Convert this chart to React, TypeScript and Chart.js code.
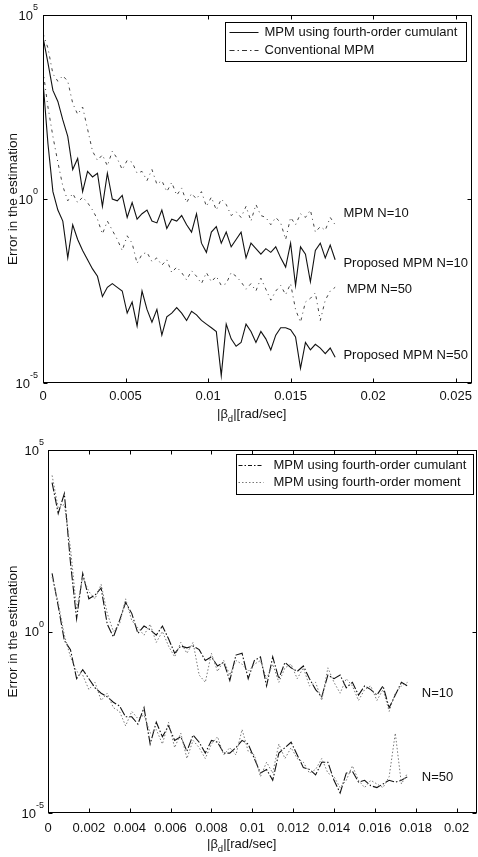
import React, { useEffect, useRef } from "react";
import { Chart, registerables } from "chart.js";

Chart.register(...registerables);

const FONT = '"Liberation Sans", Arial, Helvetica, sans-serif';
const INK = "#111";

// ---------- top panel data (x in rad/sec, y stored as log10 of error) ----------
const topX = [
  0, 0.0003, 0.0006, 0.0009, 0.0012, 0.0015, 0.0018, 0.0021, 0.0024, 0.0027,
  0.003, 0.0033, 0.0036, 0.0039, 0.0042, 0.0045, 0.0048, 0.0051, 0.0054, 0.0057,
  0.006, 0.0063, 0.0066, 0.0069, 0.0072, 0.0075, 0.0078, 0.0081, 0.0084, 0.0087,
  0.009, 0.0093, 0.0096, 0.0099, 0.0102, 0.0105, 0.0108, 0.0111, 0.0114, 0.0117,
  0.012, 0.0123, 0.0126, 0.0129, 0.0132, 0.0135, 0.0138, 0.0141, 0.0144, 0.0147,
  0.015, 0.0153, 0.0156, 0.0159, 0.0162, 0.0165, 0.0168, 0.0171, 0.0174, 0.0177,
];
const proposedN10Log = [
  4.4, 3.7, 2.95, 2.65, 2.15, 1.7, 0.8, 1.1, 0.2, 0.75,
  0.6, 0.7, -0.2, 0.7, 0.0, -0.05, 0.1, -0.5, -0.1, -0.55,
  -0.4, -0.3, -0.6, -0.65, -0.3, -0.8, -0.55, -0.6, -0.45, -0.7,
  -0.9, -0.4, -1.2, -1.45, -0.9, -0.75, -1.2, -0.9, -1.3, -1.1,
  -0.9, -1.6, -1.2, -1.35, -1.5, -1.35, -1.45, -1.3, -1.6, -1.85,
  -1.2, -2.35, -1.3, -1.5, -2.25, -1.4, -1.2, -1.6, -1.25, -1.65,
];
const proposedN50Log = [
  3.2, 1.5, 0.2, -0.3, -0.6, -1.6, -0.7, -1.1, -1.4, -1.65,
  -1.9, -2.1, -2.65, -2.4, -2.3, -2.4, -2.5, -3.1, -2.8, -3.45,
  -2.5, -3.0, -3.35, -3.0, -3.7, -3.2, -3.1, -2.95, -3.1, -3.3,
  -3.05, -3.15, -3.3, -3.4, -3.5, -3.6, -4.8, -3.4, -3.8, -4.0,
  -3.9, -3.4, -3.6, -3.9, -3.6, -3.8, -4.1, -3.7, -3.5, -3.5,
  -3.55, -3.75, -4.6, -3.9, -4.1, -3.95, -4.05, -4.2, -4.05, -4.3,
];
const conventionalN10Log = [
  4.5, 4.1, 3.4, 3.2, 3.35, 3.2, 2.6, 2.3, 2.5, 1.9,
  1.3, 1.05, 1.2, 0.9, 1.3, 1.1, 0.8, 1.05, 1.0, 0.7,
  0.75, 0.5, 0.8, 0.4, 0.5, 0.2, 0.45, 0.1, 0.3, -0.1,
  0.15, 0.0, 0.2, -0.2, 0.05, -0.3, 0.0, -0.15, -0.45, -0.35,
  -0.5, -0.2, -0.6, -0.15, -0.45, -0.5, -0.7, -0.5, -0.65, -1.1,
  -0.5, -0.7, -0.4, -0.5, -0.3, -0.9, -0.75, -0.85, -0.5, -0.7,
];
const conventionalN50Log = [
  3.5, 2.5, 1.7, 1.0, 0.35, -0.05, 0.15, -0.1, 0.05, -0.1,
  -0.3, -0.55, -0.95, -0.6, -0.85, -1.1, -1.4, -1.0, -1.2, -1.75,
  -1.5, -1.45, -1.7, -1.6, -1.8, -1.65, -2.0, -1.85, -2.0, -2.2,
  -1.95, -2.1, -2.3, -2.0, -2.25, -2.1, -2.35, -2.3, -2.0, -2.1,
  -2.25, -2.45, -2.3, -2.5, -2.15, -2.45, -2.75, -2.5, -2.35, -2.6,
  -2.3, -3.0, -3.35, -2.8, -2.7, -2.55, -3.3, -2.75, -2.5, -2.4,
];

// ---------- bottom panel data ----------
const bottomX = [
  0.0002, 0.0005, 0.0008, 0.0011, 0.0014, 0.0017, 0.002, 0.0023, 0.0026, 0.0029,
  0.0032, 0.0035, 0.0038, 0.0041, 0.0044, 0.0047, 0.005, 0.0053, 0.0056, 0.0059,
  0.0062, 0.0065, 0.0068, 0.0071, 0.0074, 0.0077, 0.008, 0.0083, 0.0086, 0.0089,
  0.0092, 0.0095, 0.0098, 0.0101, 0.0104, 0.0107, 0.011, 0.0113, 0.0116, 0.0119,
  0.0122, 0.0125, 0.0128, 0.0131, 0.0134, 0.0137, 0.014, 0.0143, 0.0146, 0.0149,
  0.0152, 0.0155, 0.0158, 0.0161, 0.0164, 0.0167, 0.017, 0.0173, 0.0176,
];
const cumulantN10Log = [
  4.1, 3.25, 3.8, 1.9, 0.35, 1.6, 0.9, 1.0, 1.2, 0.2,
  -0.15, 0.3, 0.8, 0.5, -0.05, 0.15, 0.05, -0.1, 0.15, -0.2,
  -0.6, -0.4, -0.45, -0.4, -0.5, -0.8, -0.7, -0.95, -0.85, -1.35,
  -0.65, -0.6, -1.3, -0.8, -0.7, -1.5, -0.7, -1.3, -0.85, -1.0,
  -1.1, -0.95, -1.3, -1.6, -1.8, -1.2, -1.3, -1.2, -1.55, -1.4,
  -1.75, -1.5, -1.6, -1.75, -1.5, -2.1, -1.75, -1.4, -1.5,
];
const cumulantN50Log = [
  1.6, 0.7, -0.25, -0.5, -1.3, -1.05, -1.3, -1.55, -1.7, -1.8,
  -1.95, -2.05, -2.35, -2.35, -2.55, -2.1, -3.1, -2.5, -2.9, -2.6,
  -3.0, -2.9, -3.3, -2.85, -3.05, -3.35, -3.0, -3.05, -3.35, -3.35,
  -3.2, -3.0, -3.1, -3.5, -3.9, -3.8, -4.1, -3.35, -3.2, -3.05,
  -3.4, -3.75, -3.8, -3.95, -3.6, -3.6, -4.1, -4.45, -3.9, -3.85,
  -4.15, -4.1, -4.25, -4.3, -4.2, -4.1, -4.15, -4.1, -4.0,
];
const momentN10Log = [
  4.3, 3.4, 3.5, 2.3, 0.6, 1.5, 1.1, 0.9, 1.3, 0.5,
  0.0, 0.2, 0.9, 0.3, 0.1, -0.1, 0.2, -0.3, 0.0, -0.4,
  -0.7, -0.3, -0.6, -0.3, -1.2, -1.4, -0.6, -1.1, -0.8, -1.2,
  -0.8, -0.9, -1.1, -0.9, -0.8, -1.3, -0.9, -1.4, -1.0, -0.9,
  -1.3, -1.0, -1.5, -1.4, -1.9, -1.0, -1.4, -1.7, -1.3, -1.5,
  -1.9, -1.6, -1.5, -1.9, -1.6, -2.2, -1.7, -1.5, -1.4,
];
const momentN50Log = [
  1.5, 0.8, -0.1, -0.7, -1.1, -1.2, -1.6, -1.4, -1.9, -1.7,
  -2.1, -2.2, -2.6, -2.2, -2.4, -2.3, -2.8, -2.7, -3.1, -2.5,
  -3.2, -2.8, -3.5, -3.0, -3.2, -3.5, -3.1, -2.9, -3.4, -3.2,
  -3.4, -2.7, -3.3, -3.4, -4.0, -3.6, -3.9, -3.1, -3.5, -3.2,
  -3.5, -3.6, -3.9, -3.8, -3.5, -3.9, -4.0, -4.3, -4.1, -3.7,
  -4.1, -4.3, -4.1, -4.2, -4.3, -4.0, -2.8, -4.2, -3.9,
];

// ---------- ticks, labels, annotations ----------
const topXTicks = [0, 0.005, 0.01, 0.015, 0.02, 0.025];
const topXTickLabels = ["0", "0.005", "0.01", "0.015", "0.02", "0.025"];
const bottomXTicks = [0, 0.002, 0.004, 0.006, 0.008, 0.01, 0.012, 0.014, 0.016, 0.018, 0.02];
const bottomXTickLabels = ["0", "0.002", "0.004", "0.006", "0.008", "0.01", "0.012", "0.014", "0.016", "0.018", "0.02"];
const yTickExponents = [5, 0, -5];

const topLegendLabels = ["MPM using fourth-order cumulant", "Conventional MPM"];
const bottomLegendLabels = ["MPM using fourth-order cumulant", "MPM using fourth-order moment"];

const topNoteTexts = ["MPM N=10", "Proposed MPM N=10", "MPM N=50", "Proposed MPM N=50"];
const topNoteX = [0.0182, 0.0182, 0.0184, 0.0182];
const topNoteYLog = [-0.38, -1.74, -2.47, -4.24];
const bottomNoteTexts = ["N=10", "N=50"];
const bottomNoteX = [0.0183, 0.0183];
const bottomNoteYLog = [-1.71, -4.01];

const yTitle = "Error in the estimation";

// ---------- styles ----------
const SOLID: number[] = [];
const DASHDOT = [3, 4, 1, 4];
const CUMDASH = [9, 2, 1.5, 2];
const DOTTED = [1.5, 2];

const toPoints = (xs: number[], logs: number[]) =>
  xs.map((x, i) => ({ x, y: Math.pow(10, logs[i]) }));

const line = (data: any, color: string, dash: number[], width: number) => ({
  data,
  borderColor: color,
  borderDash: dash,
  borderWidth: width,
  pointRadius: 0,
  fill: false,
  tension: 0,
});

type Spec = any;

function makePlugin(spec: Spec) {
  return {
    id: "decor",
    afterDatasetsDraw(chart: any) {
      const { ctx, chartArea: a, scales } = chart;
      const xs = scales.x;
      const ys = scales.y;
      const L = Math.round(a.left) + 0.5;
      const T = Math.round(a.top) + 0.5;
      const R = Math.round(a.right) - 0.5;
      const B = Math.round(a.bottom) - 0.5;
      ctx.save();
      ctx.setLineDash([]);
      ctx.strokeStyle = "#000";
      ctx.lineWidth = 1;
      ctx.strokeRect(L, T, R - L, B - T);

      // inward ticks
      ctx.beginPath();
      spec.xTicks.forEach((v: number) => {
        const px = Math.round(xs.getPixelForValue(v)) + 0.5;
        ctx.moveTo(px, B);
        ctx.lineTo(px, B - 4);
        ctx.moveTo(px, T);
        ctx.lineTo(px, T + 4);
      });
      yTickExponents.forEach((e) => {
        const py = Math.round(ys.getPixelForValue(Math.pow(10, e))) + 0.5;
        ctx.moveTo(L, py);
        ctx.lineTo(L + 4, py);
        ctx.moveTo(R, py);
        ctx.lineTo(R - 4, py);
      });
      ctx.stroke();

      // y tick labels 10^e
      ctx.fillStyle = INK;
      ctx.textBaseline = "middle";
      ctx.textAlign = "left";
      yTickExponents.forEach((e) => {
        const py = ys.getPixelForValue(Math.pow(10, e));
        const es = e < 0 ? "-" + Math.abs(e) : String(e);
        ctx.font = `9px ${FONT}`;
        const ew = ctx.measureText(es).width;
        ctx.font = `13px ${FONT}`;
        const bw = ctx.measureText("10").width;
        const right = a.left - spec.yLabelGap;
        ctx.fillText("10", right - ew - bw, py + 1);
        ctx.font = `9px ${FONT}`;
        ctx.fillText(es, right - ew, py - 7);
      });

      // y title
      ctx.save();
      ctx.font = `13.5px ${FONT}`;
      ctx.translate(spec.yTitleX, (a.top + a.bottom) / 2);
      ctx.rotate(-Math.PI / 2);
      ctx.textAlign = "center";
      ctx.textBaseline = "middle";
      ctx.fillText(yTitle, 0, 0);
      ctx.restore();

      // x title |β_d|[rad/sec]
      ctx.font = `13px ${FONT}`;
      ctx.textAlign = "left";
      ctx.textBaseline = "middle";
      let tx = spec.xTitleLeft;
      const ty = spec.xTitleY;
      ctx.fillText("|β", tx, ty);
      tx += ctx.measureText("|β").width;
      ctx.font = `9.5px ${FONT}`;
      ctx.fillText("d", tx, ty + 5);
      tx += ctx.measureText("d").width;
      ctx.font = `13px ${FONT}`;
      ctx.fillText("|[rad/sec]", tx, ty);

      // annotations
      ctx.font = `13px ${FONT}`;
      spec.notes.texts.forEach((t: string, i: number) => {
        const px = xs.getPixelForValue(spec.notes.x[i]);
        const py = ys.getPixelForValue(Math.pow(10, spec.notes.y[i]));
        ctx.fillText(t, px, py);
      });

      // legend
      const lb = spec.legendBox;
      const bx = Math.round(a.right - lb.right - lb.w) + 0.5;
      const by = Math.round(a.top + lb.top) + 0.5;
      ctx.fillStyle = "#fff";
      ctx.fillRect(bx, by, lb.w, lb.h);
      ctx.strokeStyle = "#000";
      ctx.lineWidth = 1;
      ctx.strokeRect(bx, by, lb.w, lb.h);
      spec.legend.forEach((it: any, i: number) => {
        const yy = by + lb.rows[i];
        ctx.beginPath();
        ctx.setLineDash(it.dash);
        ctx.strokeStyle = it.color;
        ctx.lineWidth = it.width;
        ctx.moveTo(bx + lb.s0, yy);
        ctx.lineTo(bx + lb.s1, yy);
        ctx.stroke();
        ctx.setLineDash([]);
        ctx.fillStyle = INK;
        ctx.font = `13px ${FONT}`;
        ctx.textAlign = "left";
        ctx.textBaseline = "middle";
        ctx.fillText(it.label, bx + lb.tx, yy);
      });
      ctx.restore();
    },
  };
}

function Panel({ spec }: { spec: Spec }) {
  const ref = useRef<HTMLCanvasElement>(null);
  useEffect(() => {
    const chart = new Chart(ref.current as HTMLCanvasElement, {
      type: "line",
      data: { datasets: spec.datasets },
      options: {
        responsive: false,
        animation: false,
        devicePixelRatio: 1,
        layout: { padding: { top: spec.padTop, right: spec.padRight, left: 0, bottom: 0 } },
        plugins: { legend: { display: false }, tooltip: { enabled: false }, title: { display: false } },
        scales: {
          x: {
            type: "linear",
            min: 0,
            max: spec.xMax,
            grid: { display: false, drawTicks: false },
            border: { display: false },
            afterFit: (s: any) => {
              s.height = spec.xHeight;
            },
            afterBuildTicks: (s: any) => {
              s.ticks = spec.xTicks.map((v: number) => ({ value: v }));
            },
            ticks: {
              padding: spec.tickPad,
              maxRotation: 0,
              autoSkip: false,
              color: INK,
              font: { family: FONT, size: 13 },
              callback: (_v: any, i: number) => spec.xTickLabels[i],
            },
          },
          y: {
            type: "logarithmic",
            min: 1e-5,
            max: 1e5,
            grid: { display: false, drawTicks: false },
            border: { display: false },
            ticks: { display: false },
            afterFit: (s: any) => {
              s.width = spec.yWidth;
            },
          },
        },
      } as any,
      plugins: [makePlugin(spec)],
    });
    return () => chart.destroy();
  }, []);
  return <canvas ref={ref} width={478} height={spec.height} style={{ display: "block" }} />;
}

const topSpec: Spec = {
  height: 430,
  padTop: 15,
  padRight: 2,
  yWidth: 43,
  xHeight: 47,
  xMax: 0.026,
  xTicks: topXTicks,
  xTickLabels: topXTickLabels,
  tickPad: 6,
  yLabelGap: 5,
  yTitleX: 13,
  xTitleLeft: 217,
  xTitleY: 414,
  datasets: [
    line(toPoints(topX, proposedN10Log), "#111", SOLID, 1.1),
    line(toPoints(topX, proposedN50Log), "#111", SOLID, 1.1),
    line(toPoints(topX, conventionalN10Log), "#444", DASHDOT, 1),
    line(toPoints(topX, conventionalN50Log), "#444", DASHDOT, 1),
  ],
  legend: [
    { label: topLegendLabels[0], color: "#111", dash: SOLID, width: 1 },
    { label: topLegendLabels[1], color: "#333", dash: [5, 3, 1.5, 3], width: 1 },
  ],
  legendBox: { right: 6, top: 7, w: 241, h: 39, rows: [10, 28], s0: 4, s1: 33, tx: 39 },
  notes: { texts: topNoteTexts, x: topNoteX, y: topNoteYLog },
};

const bottomSpec: Spec = {
  height: 427,
  padTop: 20,
  padRight: 1,
  yWidth: 48,
  xHeight: 44,
  xMax: 0.021,
  xTicks: bottomXTicks,
  xTickLabels: bottomXTickLabels,
  tickPad: 8,
  yLabelGap: 4,
  yTitleX: 13,
  xTitleLeft: 207,
  xTitleY: 414,
  datasets: [
    line(toPoints(bottomX, momentN10Log), "#777", DOTTED, 1),
    line(toPoints(bottomX, momentN50Log), "#777", DOTTED, 1),
    line(toPoints(bottomX, cumulantN10Log), "#111", CUMDASH, 1.1),
    line(toPoints(bottomX, cumulantN50Log), "#111", CUMDASH, 1.1),
  ],
  legend: [
    { label: bottomLegendLabels[0], color: "#111", dash: [4, 2, 1.5, 2], width: 1 },
    { label: bottomLegendLabels[1], color: "#777", dash: DOTTED, width: 1 },
  ],
  legendBox: { right: 4, top: 4, w: 237, h: 40, rows: [11, 28], s0: 2, s1: 27, tx: 37 },
  notes: { texts: bottomNoteTexts, x: bottomNoteX, y: bottomNoteYLog },
};

export default function App() {
  return (
    <div style={{ position: "absolute", left: 0, top: 0, width: 478, height: 857, background: "#fff" }}>
      <Panel spec={topSpec} />
      <Panel spec={bottomSpec} />
    </div>
  );
}
